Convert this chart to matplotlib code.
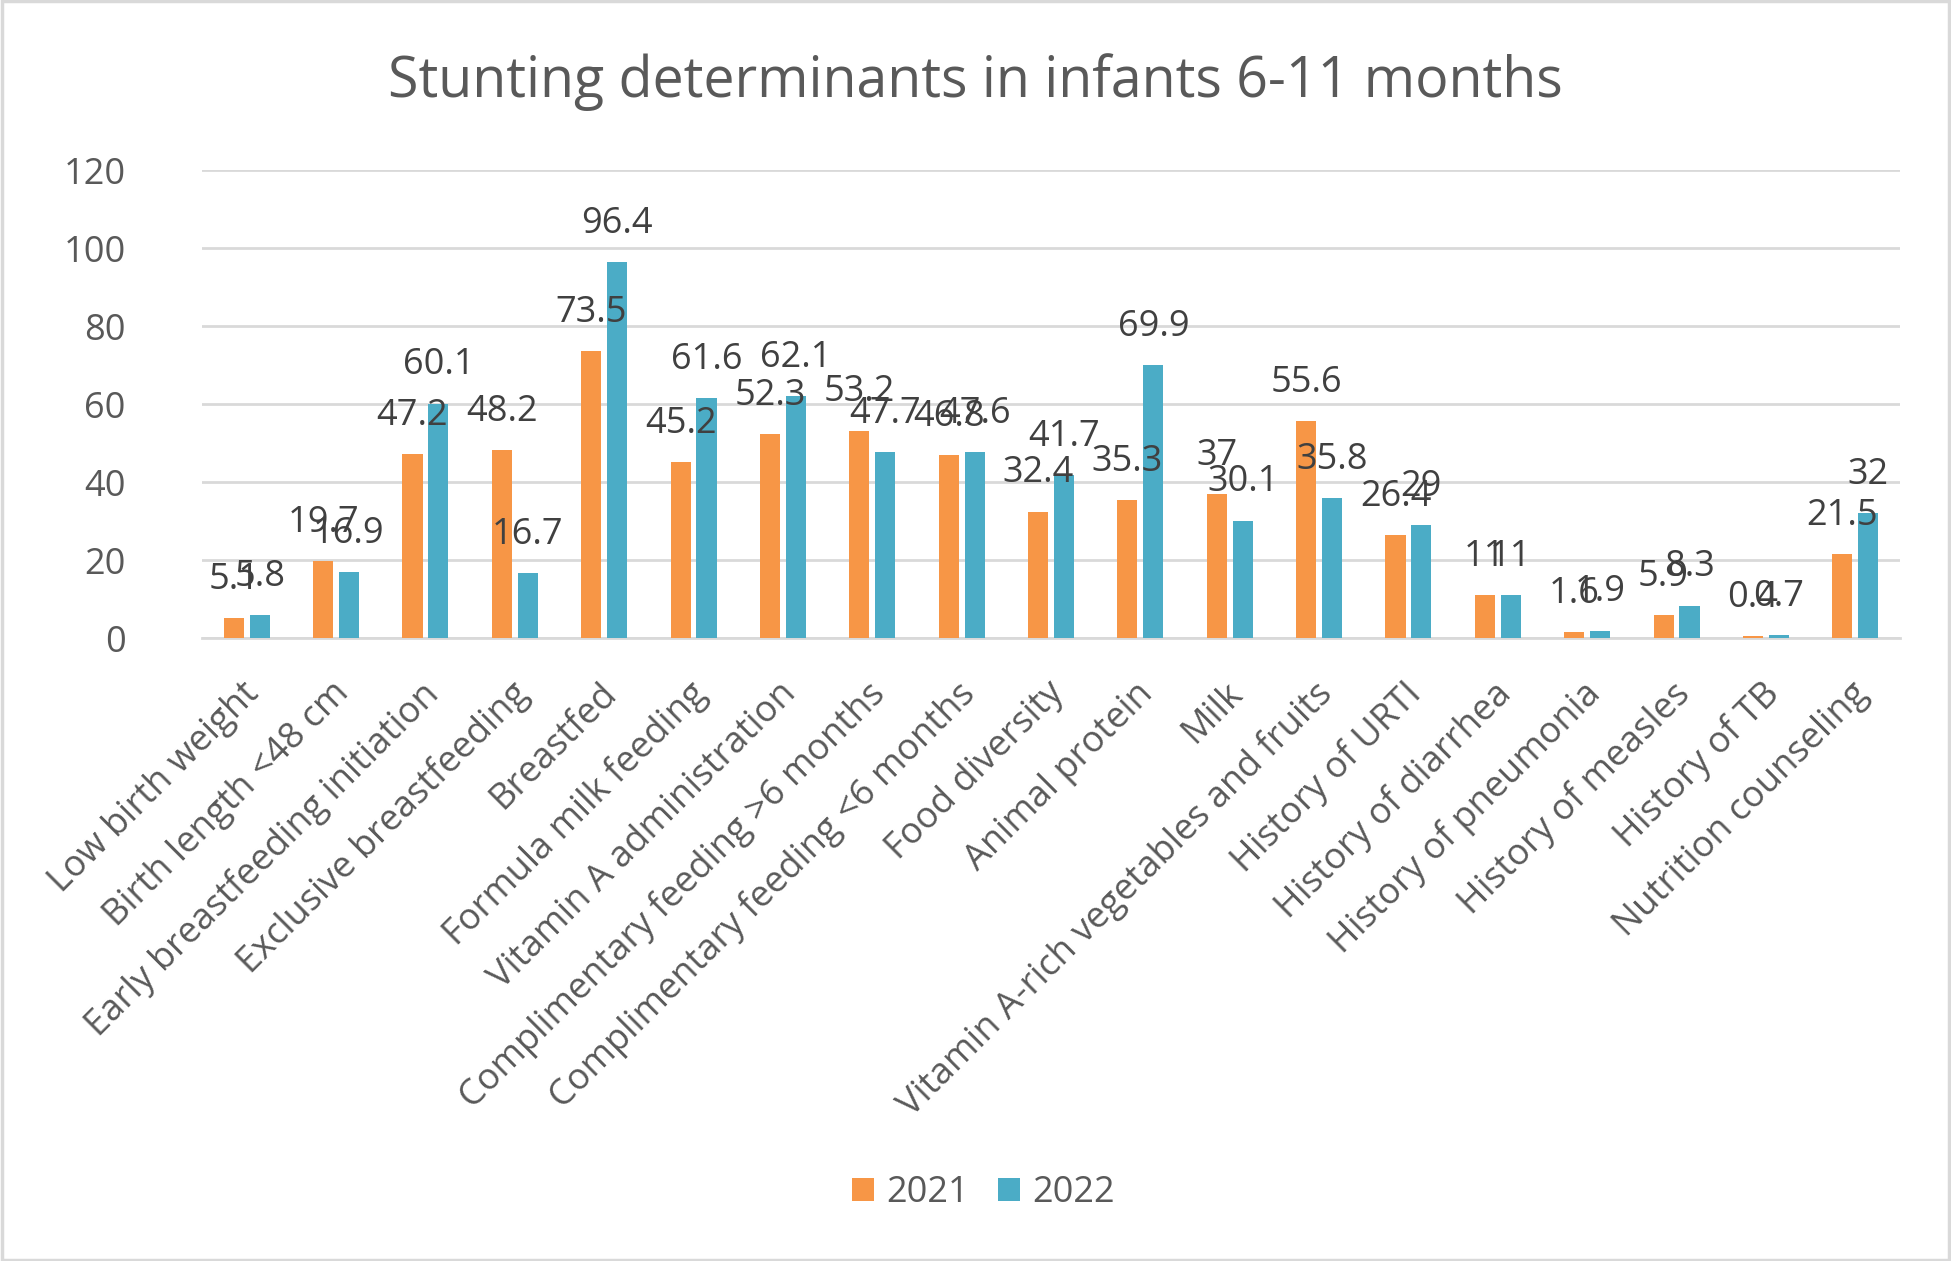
import matplotlib
matplotlib.use("Agg")
import matplotlib.pyplot as plt
import matplotlib.transforms as mtransforms
import numpy as np
from matplotlib.patches import Rectangle

categories = ["Low birth weight", "Birth length <48 cm", "Early breastfeeding initiation",
              "Exclusive breastfeeding", "Breastfed", "Formula milk feeding",
              "Vitamin A administration", "Complimentary feeding >6 months",
              "Complimentary feeding <6 months", "Food diversity", "Animal protein", "Milk",
              "Vitamin A-rich vegetables and fruits", "History of URTI", "History of diarrhea",
              "History of pneumonia", "History of measles", "History of TB", "Nutrition counseling"]
values_2021 = [5.1, 19.7, 47.2, 48.2, 73.5, 45.2, 52.3, 53.2, 46.8, 32.4, 35.3, 37, 55.6, 26.4, 11, 1.6, 5.9, 0.4, 21.5]
values_2022 = [5.8, 16.9, 60.1, 16.7, 96.4, 61.6, 62.1, 47.7, 47.6, 41.7, 69.9, 30.1, 35.8, 29, 11, 1.9, 8.3, 0.7, 32]
series_names = ["2021", "2022"]
yticks = [0, 20, 40, 60, 80, 100, 120]

C_ORANGE = "#F79646"
C_BLUE = "#4BACC6"
C_GRID = "#D9D9D9"
C_TICK = "#595959"
C_LABEL = "#404040"
FONT = "Open Sans"
FS = 26

plt.rcParams['font.family'] = [FONT, 'DejaVu Sans']

W, H = 1951, 1261
fig = plt.figure(figsize=(W / 100, H / 100), dpi=100)
ax = fig.add_axes([202 / W, 1 - 638 / H, (1900 - 202) / W, (638 - 170) / H])

x = np.arange(len(categories))
bw = 0.225
off = 0.145
b1 = ax.bar(x - off, values_2021, bw, color=C_ORANGE, label=series_names[0], zorder=3)
b2 = ax.bar(x + off, values_2022, bw, color=C_BLUE, label=series_names[1], zorder=3)

for bars, vals in ((b1, values_2021), (b2, values_2022)):
    for rect, v in zip(bars, vals):
        ax.annotate(f"{v:g}", xy=(rect.get_x() + rect.get_width() / 2, v),
                    xytext=(0, 21), textcoords="offset points",
                    ha="center", va="baseline", fontsize=FS, color=C_LABEL, zorder=4)

ax.set_xlim(-0.5, len(categories) - 0.5)
ax.set_ylim(0, 120)
ax.set_yticks(yticks)
ax.set_yticklabels([str(t) for t in yticks])
ax.yaxis.grid(True, color=C_GRID, linewidth=2, zorder=0)
ax.set_axisbelow(True)
for s in ("top", "right", "left"):
    ax.spines[s].set_visible(False)
ax.spines["bottom"].set_color(C_GRID)
ax.spines["bottom"].set_linewidth(2)
ax.spines["bottom"].set_zorder(2)

ax.set_xticks(x)
ax.set_xticklabels(categories, rotation=45, ha="right", rotation_mode="anchor")
ax.tick_params(axis="x", length=0, pad=27, labelsize=FS, labelcolor=C_TICK)
ax.tick_params(axis="y", length=0, pad=55, labelsize=FS, labelcolor=C_TICK)
shift = mtransforms.ScaledTranslation(-5 / 100, 0, fig.dpi_scale_trans)
for lbl in ax.get_xticklabels():
    lbl.set_transform(lbl.get_transform() + shift)

fig.text(0.5, 1 - 97 / H, "Stunting determinants in infants 6-11 months",
         ha="center", va="baseline", fontsize=40, color=C_TICK)

fig.legend(handles=[b1, b2], labels=series_names, loc="center",
           bbox_to_anchor=(0.5 + 8 / W, 1 - 1193 / H), ncol=2, frameon=False,
           fontsize=FS, labelcolor=C_TICK, handlelength=0.6, handleheight=0.6,
           handletextpad=0.35, columnspacing=0.8)

fig.patches.append(Rectangle((0.001, 0.001), 0.998, 0.998, transform=fig.transFigure,
                             fill=False, edgecolor=C_GRID, linewidth=2.5))

fig.savefig("out.png", dpi=100, facecolor="white")
